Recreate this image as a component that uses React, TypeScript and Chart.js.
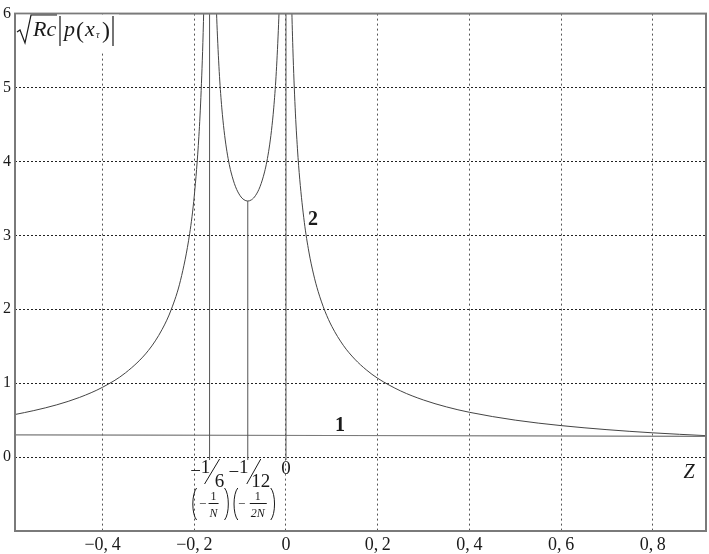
import React, { useEffect, useRef } from 'react';
import { Chart, registerables } from 'chart.js';

Chart.register(...registerables);

// ---- axis ranges and tick values ----
const X_MIN = -0.591;
const X_MAX = 0.916;
const Y_MIN = -1;
const Y_MAX = 6;
const xTickValues = [-0.4, -0.2, 0, 0.2, 0.4, 0.6, 0.8];
const yTickValues = [-1, 0, 1, 2, 3, 4, 5, 6];

// ---- curve 2, left branch (z < -1/6) ----
const leftZ = [-0.591, -0.55, -0.5, -0.45, -0.4, -0.35, -0.3, -0.27, -0.25, -0.23, -0.21, -0.2, -0.19, -0.185, -0.18, -0.176];
const leftP = [0.576, 0.629, 0.707, 0.808, 0.945, 1.14, 1.443, 1.729, 2.0, 2.392, 3.026, 3.536, 4.337, 4.96, 5.893, 7.12];

// ---- curve 2, middle branch (-1/6 < z < 0) ----
const midZ = [-0.158, -0.155, -0.152, -0.15, -0.145, -0.14, -0.135, -0.13, -0.125, -0.12, -0.11, -0.1, -0.0917, -0.0833, -0.075, -0.0667, -0.0567, -0.0467, -0.0417, -0.0367, -0.0317, -0.0267, -0.0217, -0.0167, -0.0147, -0.0117, -0.0087];
const midP = [7.8, 6.79, 6.11, 5.774, 5.151, 4.725, 4.416, 4.181, 4.0, 3.858, 3.657, 3.536, 3.482, 3.464, 3.482, 3.536, 3.657, 3.858, 4.0, 4.181, 4.416, 4.725, 5.151, 5.774, 6.11, 6.79, 7.8];

// ---- curve 2, right branch (z > 0) ----
const rightZ = [0.008, 0.01, 0.012, 0.015, 0.02, 0.025, 0.03, 0.04, 0.05, 0.06, 0.07, 0.085, 0.1, 0.125, 0.15, 0.175, 0.2, 0.25, 0.3, 0.35, 0.4, 0.5, 0.6, 0.7, 0.8, 0.916];
const rightP = [7.72, 6.87, 6.235, 5.531, 4.725, 4.171, 3.759, 3.176, 2.774, 2.476, 2.243, 1.974, 1.768, 1.512, 1.325, 1.181, 1.066, 0.895, 0.772, 0.679, 0.606, 0.5, 0.426, 0.371, 0.328, 0.29];

// ---- curve 1 ----
const line1Z = [-0.591, -0.3, 0.1, 0.5, 0.916];
const line1P = [0.3, 0.297, 0.292, 0.286, 0.28];

// ---- vertical marker lines ----
const markerZ = [-1 / 6, -1 / 12, 0];
const markerTop = [6, 3.464, 6];
const markerBottom = -0.04;

const pts = (xs: number[], ys: number[]) => xs.map((x, i) => ({ x, y: ys[i] }));

const SERIF = '"Liberation Serif", "DejaVu Serif", serif';

function paren(ctx: CanvasRenderingContext2D, x: number, left: boolean) {
  const d = left ? 1 : -1;
  ctx.beginPath();
  ctx.moveTo(x + 4 * d, 488);
  ctx.bezierCurveTo(x - 1 * d, 494, x - 1 * d, 514, x + 4 * d, 520);
  ctx.stroke();
}

const annotations = {
  id: 'annotations',
  afterDraw(chart: any) {
    const { ctx, chartArea: a, scales } = chart;
    const xs = scales.x;
    ctx.save();
    // frame
    ctx.strokeStyle = '#7a7a7a';
    ctx.lineWidth = 2;
    ctx.strokeRect(a.left, a.top, a.right - a.left, a.bottom - a.top);

    // y label box
    ctx.fillStyle = '#ffffff';
    ctx.fillRect(a.left + 1, a.top + 1, 103, 37);
    ctx.fillStyle = '#1a1a1a';
    ctx.strokeStyle = '#1a1a1a';
    ctx.lineWidth = 1.2;
    ctx.beginPath();
    ctx.moveTo(17, 32);
    ctx.lineTo(20, 30);
    ctx.lineTo(25, 43);
    ctx.lineTo(31, 15);
    ctx.lineTo(57, 15);
    ctx.stroke();
    ctx.textBaseline = 'alphabetic';
    ctx.textAlign = 'left';
    ctx.font = `italic 22px ${SERIF}`;
    ctx.fillText('Rc', 33, 36);
    ctx.beginPath();
    ctx.moveTo(60, 16); ctx.lineTo(60, 46);
    ctx.moveTo(113, 16); ctx.lineTo(113, 46);
    ctx.stroke();
    ctx.fillText('p', 64, 36);
    ctx.font = `24px ${SERIF}`;
    ctx.fillText('(', 76, 38);
    ctx.fillText(')', 102, 38);
    ctx.font = `italic 22px ${SERIF}`;
    ctx.fillText('x', 85, 36);
    ctx.font = `italic 10px ${SERIF}`;
    ctx.fillText('τ', 96, 38);

    // curve labels
    ctx.font = `bold 20px ${SERIF}`;
    ctx.textAlign = 'center';
    ctx.fillText('2', 313, 225);
    ctx.fillText('1', 340, 431);
    ctx.font = `italic 20px ${SERIF}`;
    ctx.fillText('Z', 689, 478);

    // fraction labels under the singular points
    const p6 = xs.getPixelForValue(-1 / 6);
    const p12 = xs.getPixelForValue(-1 / 12);
    const p0 = xs.getPixelForValue(0);
    ctx.font = `19px ${SERIF}`;
    ctx.fillText('−', p6 - 14, 477);
    ctx.fillText('1', p6 - 4, 473);
    ctx.fillText('6', p6 + 10, 487);
    ctx.fillText('−', p12 - 14, 478);
    ctx.fillText('1', p12 - 4, 473);
    ctx.fillText('12', p12 + 13, 487);
    ctx.fillText('0', p0, 474);
    ctx.lineWidth = 1;
    ctx.beginPath();
    ctx.moveTo(p6 - 5, 484); ctx.lineTo(p6 + 10, 459);
    ctx.moveTo(p12 - 1, 484); ctx.lineTo(p12 + 13, 459);
    ctx.stroke();

    // (−1/N) and (−1/2N)
    paren(ctx, p6 - 17, true);
    paren(ctx, p6 + 19, false);
    paren(ctx, p12 - 14, true);
    paren(ctx, p12 + 27, false);
    ctx.font = `13px ${SERIF}`;
    ctx.fillText('−', p6 - 7, 508);
    ctx.fillText('−', p12 - 6, 508);
    ctx.font = `12px ${SERIF}`;
    ctx.fillText('1', p6 + 4, 500);
    ctx.fillText('1', p12 + 10, 500);
    ctx.font = `italic 12px ${SERIF}`;
    ctx.fillText('N', p6 + 4, 517);
    ctx.fillText('2N', p12 + 10, 517);
    ctx.beginPath();
    ctx.moveTo(p6 - 1, 503.5); ctx.lineTo(p6 + 9, 503.5);
    ctx.moveTo(p12 + 2, 503.5); ctx.lineTo(p12 + 19, 503.5);
    ctx.stroke();
    ctx.restore();
  },
};

export default function App() {
  const ref = useRef<HTMLCanvasElement | null>(null);
  useEffect(() => {
    if (!ref.current) return;
    const curveStyle = {
      borderColor: '#444444',
      borderWidth: 1,
      pointRadius: 0,
      fill: false,
      cubicInterpolationMode: 'monotone' as const,
    };
    const markerSets = markerZ.map((z, i) => ({
      data: [{ x: z, y: markerBottom }, { x: z, y: markerTop[i] }],
      borderColor: '#555555',
      borderWidth: 1,
      pointRadius: 0,
      fill: false,
    }));
    const chart = new Chart(ref.current, {
      type: 'line',
      data: {
        datasets: [
          ...markerSets,
          { data: pts(line1Z, line1P), borderColor: '#7a7a7a', borderWidth: 1.2, pointRadius: 0, fill: false },
          { ...curveStyle, data: pts(leftZ, leftP) },
          { ...curveStyle, data: pts(midZ, midP) },
          { ...curveStyle, data: pts(rightZ, rightP) },
        ],
      },
      options: {
        responsive: false,
        animation: false,
        layout: { padding: { top: 12, right: 3, left: 0, bottom: 0 } },
        plugins: { legend: { display: false }, tooltip: { enabled: false } },
        scales: {
          x: {
            type: 'linear',
            min: X_MIN,
            max: X_MAX,
            afterBuildTicks: (s: any) => { s.ticks = xTickValues.map((value) => ({ value })); },
            afterFit: (s: any) => { s.height = 23; },
            grid: { color: '#555555', lineWidth: 1, drawTicks: false },
            border: { display: false, dash: [2, 3] },
            ticks: {
              padding: 3,
              color: '#1a1a1a',
              font: { family: SERIF, size: 18 },
              maxRotation: 0,
              autoSkip: false,
              callback: (v: any) => {
                const n = Number(v);
                if (Math.abs(n) < 1e-9) return '0';
                return (n < 0 ? '−' : '') + Math.abs(n).toFixed(1).replace('.', ',\u2009');
              },
            },
          },
          y: {
            type: 'linear',
            min: Y_MIN,
            max: Y_MAX,
            afterBuildTicks: (s: any) => { s.ticks = yTickValues.map((value) => ({ value })); },
            afterFit: (s: any) => { s.width = 15; },
            grid: { color: '#222222', lineWidth: 1, drawTicks: false },
            border: { display: false, dash: [2, 2] },
            ticks: {
              padding: 4,
              color: '#1a1a1a',
              font: { family: SERIF, size: 16 },
              autoSkip: false,
              callback: (v: any) => (Number(v) === -1 ? '' : String(v)),
            },
          },
        },
      },
      plugins: [annotations],
    });
    return () => chart.destroy();
  }, []);
  return (
    <div style={{ position: 'fixed', left: 0, top: 0, width: 709, height: 554, background: '#fff' }}>
      <canvas ref={ref} width={709} height={554} style={{ display: 'block' }} />
    </div>
  );
}
